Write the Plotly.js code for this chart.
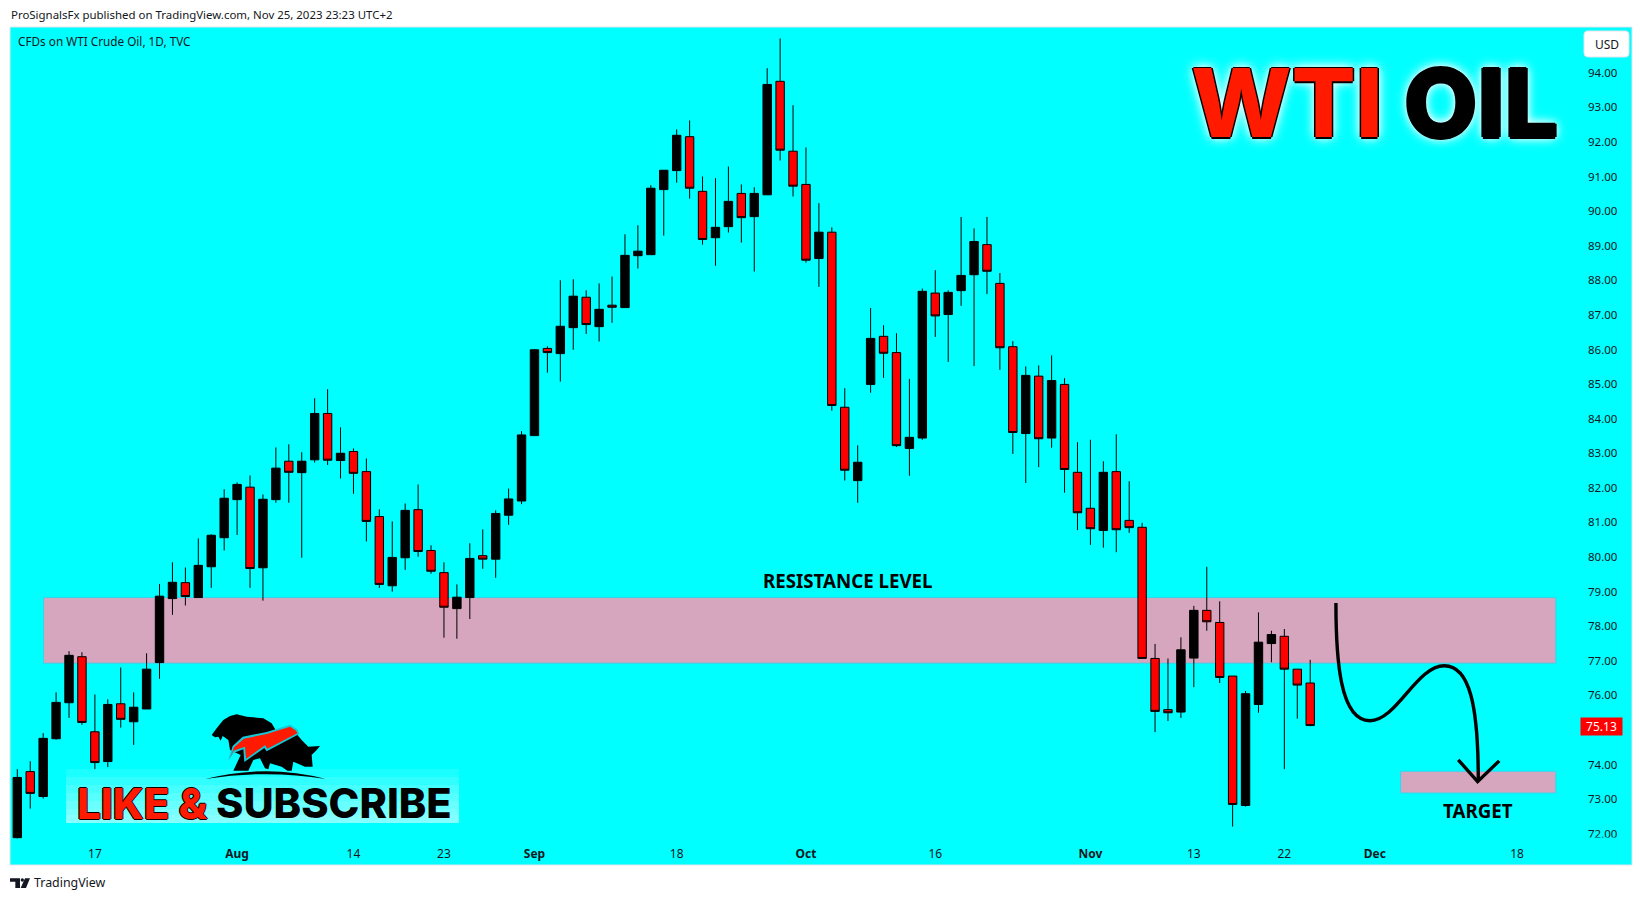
<!DOCTYPE html>
<html>
<head>
<meta charset="utf-8">
<title>WTI OIL</title>
<script src="https://cdn.plot.ly/plotly-3.0.1.min.js"></script>
<style>html,body{margin:0;padding:0;background:#fff;overflow:hidden}#chart{width:1643px;height:901px}</style>
</head>
<body>
<div id="chart"></div>
<script>
// Daily candles
const opens = [71.89,73.80,73.08,74.75,75.79,77.12,74.95,74.09,75.76,75.24,75.61,76.95,78.80,79.26,78.83,79.72,80.56,81.66,82.02,79.69,81.66,82.77,82.44,82.81,84.15,82.79,83.05,82.47,81.17,79.17,79.98,81.37,80.19,79.55,78.51,78.83,80.04,79.94,81.21,81.62,83.51,86.03,85.88,86.63,87.51,86.66,87.28,87.21,88.71,88.74,90.62,91.17,92.15,90.57,89.23,89.55,90.51,89.84,90.47,93.75,91.73,90.77,88.63,89.39,84.33,82.21,84.99,86.38,85.91,83.14,83.44,87.63,87.01,87.70,88.16,89.03,87.91,86.08,83.57,85.23,83.44,84.99,82.45,81.41,80.77,82.47,81.06,80.86,77.07,75.59,75.52,77.08,78.46,78.11,76.56,72.82,75.74,77.50,77.71,76.76,76.36];
const closes = [73.63,73.17,74.76,75.80,77.16,75.22,74.06,75.74,75.31,75.66,76.76,78.87,79.27,78.86,79.76,80.63,81.70,82.10,79.67,81.67,82.57,82.45,82.77,84.15,82.80,83.00,82.42,81.03,79.21,79.99,81.35,80.16,79.59,78.55,78.84,79.96,79.94,81.26,81.68,83.53,85.99,85.91,86.67,87.54,86.72,87.16,87.22,88.72,88.84,90.66,91.18,92.19,90.66,89.18,89.53,90.28,89.81,90.51,93.66,91.76,90.72,88.58,89.39,84.38,82.51,82.74,86.32,85.89,83.22,83.46,87.68,86.97,87.65,88.14,89.12,88.26,86.05,83.60,85.25,83.42,85.10,82.53,81.28,80.82,82.45,80.79,80.85,77.07,75.54,75.50,77.32,78.46,78.13,76.52,72.85,76.05,77.54,77.76,76.76,76.30,75.13];
const highs = [73.87,74.10,74.91,76.09,77.28,77.25,76.03,75.89,76.81,76.09,77.22,79.22,79.85,79.70,80.54,80.66,81.96,82.16,82.36,81.81,83.17,83.26,83.03,84.59,84.85,83.75,83.14,82.85,81.38,81.03,81.55,82.10,80.34,79.85,79.21,80.40,80.80,81.35,81.98,83.64,86.01,86.09,88.00,88.03,87.71,87.91,88.11,89.33,89.59,90.75,91.18,92.36,92.62,91.00,90.95,91.29,90.77,90.69,94.13,94.99,93.06,91.84,90.23,89.53,84.88,83.23,87.20,86.70,86.47,85.15,87.76,88.29,87.71,89.83,89.50,89.83,88.21,86.24,85.51,85.54,85.83,85.17,83.32,83.39,82.77,83.55,82.19,80.99,77.49,77.07,77.68,78.59,79.72,78.72,76.56,76.13,78.40,77.87,77.92,76.76,77.03];
const lows = [71.87,72.73,73.02,74.72,75.35,75.15,73.87,73.93,75.07,74.57,75.61,76.48,78.33,78.60,78.83,79.11,80.19,80.64,79.11,78.74,81.57,81.57,79.98,82.73,82.66,82.27,81.83,80.45,79.11,79.00,79.63,80.01,79.52,77.67,77.64,78.21,79.66,79.40,80.93,81.53,83.51,85.33,85.07,85.99,86.45,86.23,86.77,87.21,88.34,88.74,89.29,90.82,90.36,89.03,88.42,89.38,89.09,88.25,90.47,91.46,90.42,88.51,87.81,84.23,82.21,81.57,84.75,85.18,83.18,82.35,83.39,86.36,85.64,87.26,85.52,87.60,85.41,82.98,82.14,82.60,83.16,81.86,80.78,80.35,80.27,80.14,80.70,77.07,74.94,75.26,75.35,76.24,77.87,76.36,72.21,72.79,75.50,76.96,73.87,75.33,75.11];
const sessions = opens.map((_, i) => i);

// Axis labels
const xTickSessions = [6,17,26,33,40,51,61,71,83,91,98,105,116];
const xTickLabels = ['17','<b>Aug</b>','14','23','<b>Sep</b>','18','<b>Oct</b>','16','<b>Nov</b>','13','22','<b>Dec</b>','18'];
const priceTicks = [72,73,74,76,77,78,79,80,81,82,83,84,85,86,87,88,89,90,91,92,93,94];

// Drawn levels
const resistanceZone = {from: 2.03, to: 119, low: 76.93, high: 78.83};
const targetZone = {from: 106.99, to: 119, low: 73.18, high: 73.81};
const lastPrice = 75.13;

// Hand-drawn projection: start point, then three cubic segments (session, price)
const pathSessions = [101.99,101.99,102.30,104.62,106.68,108.23,110.37,112.35,113.0,113.0];
const pathPrices = [78.67,77.03,75.27,75.27,75.27,76.86,76.86,76.86,75.68,73.56];
const headSessions = [111.45,112.95,114.62];
const headPrices = [74.14,73.51,74.11];

// Page geometry
const W = 1643, H = 901, L = 10, R = 1632, T = 27, B = 865;
const px = x => (x - L) / (R - L);
const py = y => (B - y) / (B - T);
const TEXT = '#131722';
const UI = '"Noto Sans", sans-serif';
const HEAVY = 'Inter, sans-serif';

function pathOf(cmds, mapX, mapY) {
  return cmds.map(c => {
    const [k, ...n] = c;
    let s = k;
    for (let i = 0; i < n.length; i += 2) s += (i ? ' ' : '') + mapX(n[i]) + ',' + mapY(n[i + 1]);
    return s;
  }).join(' ') + ' Z';
}
// logo artwork coordinates are in thirds of a pixel, offset 350 px down
const lx = v => px(v / 3).toFixed(5);
const ly = v => py(350 + v / 3).toFixed(5);
const poly = pts => pathOf(pts.map((p, i) => [i ? 'L' : 'M', p[0], p[1]]), lx, ly);

const beastPts = [[635,1155],[650,1135],[670,1110],[690,1098],[710,1093],[740,1100],[790,1105],[815,1120],[830,1145],[880,1140],[905,1170],[925,1190],[960,1188],[950,1200],[935,1215],[938,1250],[915,1250],[880,1235],[875,1262],[862,1262],[845,1250],[810,1240],[805,1258],[795,1255],[780,1225],[760,1230],[745,1262],[700,1262],[722,1215],[690,1200],[685,1170],[668,1158],[662,1172],[655,1160],[645,1162]];
const boltOuter = [[684,1232],[698,1188],[728,1160],[800,1146],[870,1124],[892,1138],[898,1152],[800,1204],[793,1194],[733,1236],[730,1198],[702,1208]];
const boltPts = [[690,1225],[702,1192],[732,1166],[800,1152],[870,1130],[888,1142],[892,1150],[802,1196],[795,1186],[738,1226],[735,1190],[700,1202]];

const shapes = [];
const rectShape = (x0, x1, y0, y1, fill, line, layer) => ({type:'rect', xref:'paper', yref:'paper', x0:px(x0), x1:px(x1), y0:py(y0), y1:py(y1), fillcolor:fill, line:line||{width:0}, layer:layer||'below'});

// price zones through the chart's own scales
[resistanceZone, targetZone].forEach(z => shapes.push({type:'rect', xref:'x', yref:'y', x0:z.from, x1:z.to, y0:z.low, y1:z.high, fillcolor:'#d5a6bd', line:{color:'#35d5ee', width:1}, layer:'below'}));

// projection curve through the same scales
const pt = i => pathSessions[i] + ',' + pathPrices[i];
shapes.push({type:'path', xref:'x', yref:'y', layer:'above', fillcolor:'rgba(0,0,0,0)', line:{color:'#000', width:3.4},
  path:`M${pt(0)} C${pt(1)} ${pt(2)} ${pt(3)} C${pt(4)} ${pt(5)} ${pt(6)} C${pt(7)} ${pt(8)} ${pt(9)}`});

// glow behind the subscribe text
[769,777,785,793,801,809,815].forEach(y => shapes.push(rectShape(66, 459, y, 823, 'rgba(255,255,255,0.1)')));
shapes.push({type:'path', xref:'paper', yref:'paper', path:poly(beastPts), fillcolor:'#000', line:{width:0}, layer:'below'});
shapes.push({type:'path', xref:'paper', yref:'paper', path:poly(boltOuter), fillcolor:'#14c8d8', line:{width:0}, layer:'below'});
shapes.push({type:'path', xref:'paper', yref:'paper', path:poly(boltPts), fillcolor:'#ff1a00', line:{width:0}, layer:'below'});
shapes.push({type:'path', xref:'paper', yref:'paper', path:`M${lx(615)},${ly(1287)} Q${lx(800)},${ly(1240)} ${lx(978)},${ly(1287)} Q${lx(800)},${ly(1258)} ${lx(615)},${ly(1287)} Z`, fillcolor:'#000', line:{width:0}, layer:'below'});

// frame
shapes.push(rectShape(L, R, T, B, 'rgba(0,0,0,0)', {color:'#dfe3ea', width:1}, 'above'));
// USD button with rounded corners
const bx0 = 1584, bx1 = 1629, by0 = 31, by1 = 57, r = 4;
const bp = (x, y) => px(x).toFixed(5) + ',' + py(y).toFixed(5);
shapes.push({type:'path', xref:'paper', yref:'paper', layer:'above', fillcolor:'#fff', line:{color:'#e0e3eb', width:1},
  path:`M${bp(bx0+r,by0)} L${bp(bx1-r,by0)} Q${bp(bx1,by0)} ${bp(bx1,by0+r)} L${bp(bx1,by1-r)} Q${bp(bx1,by1)} ${bp(bx1-r,by1)} L${bp(bx0+r,by1)} Q${bp(bx0,by1)} ${bp(bx0,by1-r)} L${bp(bx0,by0+r)} Q${bp(bx0,by0)} ${bp(bx0+r,by0)} Z`});
// TradingView mark
const tv = (x, y) => bp(x / 3, 820 + y / 3);
shapes.push({type:'path', xref:'paper', yref:'paper', layer:'above', fillcolor:TEXT, line:{width:0},
  path:`M${tv(30,175)} L${tv(60,175)} L${tv(60,204)} L${tv(46,204)} L${tv(46,185)} L${tv(30,185)} Z`});
shapes.push({type:'path', xref:'paper', yref:'paper', layer:'above', fillcolor:TEXT, line:{width:0},
  path:`M${tv(75,175)} L${tv(90,175)} L${tv(78,204)} L${tv(62,204)} Z`});
shapes.push({type:'circle', xref:'paper', yref:'paper', layer:'above', fillcolor:TEXT, line:{width:0},
  x0:px(62/3), x1:px(72/3), y0:py(820+175/3), y1:py(820+185/3)});

const note = (text, x, y, size, color, family, extra) => Object.assign({
  text, x:px(x), y:py(y), xref:'paper', yref:'paper', showarrow:false, xanchor:'center', yanchor:'middle', borderpad:0,
  font:{size, color, family}
}, extra || {});
const outline = '1.5px 0 #000,-1.5px 0 #000,0 1.5px #000,0 -1.5px #000,0 0 9px #fff,0 0 14px #fff';
const heavyGlow = '1.5px 0 #000,-1.5px 0 #000,0 1.5px #000,0 -1.5px #000,0 0 8px #fff,0 0 13px #fff';

const annotations = [
  note('ProSignalsFx published on TradingView.com, Nov 25, 2023 23:23 UTC+2', 10, 15, 11.45, TEXT, UI, {xanchor:'left'}),
  note('CFDs on WTI Crude Oil, 1D, TVC', 17, 41, 11.75, TEXT, UI, {xanchor:'left'}),
  note('TradingView', 32.5, 883, 12.4, TEXT, UI, {xanchor:'left'}),
  note('USD', 1606.5, 44, 12, TEXT, UI),
  note(lastPrice.toFixed(2), 1601.5, 726.5, 12, '#fff', UI, {bgcolor:'#ff0000', width:41, height:17}),
  note('RESISTANCE LEVEL', 847, 580, 18.7, '#000', UI, {font:{size:18.7, color:'#000', family:UI, weight:700}}),
  note('TARGET', 1478, 810, 18.7, '#000', UI, {font:{size:18.7, color:'#000', family:UI, weight:700}}),
  note('WTI', 1287, 102, 95, '#ff1a00', HEAVY, {font:{size:95, color:'#ff1a00', family:HEAVY, weight:800, shadow:outline}}),
  note('OIL', 1481, 102, 95, '#000', HEAVY, {font:{size:95, color:'#000', family:HEAVY, weight:800, shadow:heavyGlow}}),
  note('LIKE &', 142.5, 803, 42, '#ff1a00', HEAVY, {font:{size:42, color:'#ff1a00', family:HEAVY, weight:800, shadow:'1px 0 #000,-1px 0 #000,0 1px #000,0 -1px #000'}}),
  note('SUBSCRIBE', 333.5, 803, 41.5, '#000', HEAVY, {font:{size:41.5, color:'#000', family:HEAVY, weight:800}}),
  // the pane ends just below the lowest price label
  note(' ', 1606, 842, 4, 'rgba(0,0,0,0)', UI, {bgcolor:'#00ffff', width:44, height:8})
];

const candles = {
  type:'candlestick', x:sessions, open:opens, high:highs, low:lows, close:closes,
  increasing:{line:{color:'#000', width:1}, fillcolor:'#000'},
  decreasing:{line:{color:'#000', width:1}, fillcolor:'#ff0000'},
  whiskerwidth:0, hoverinfo:'skip', showlegend:false
};
const arrowHead = {type:'scatter', mode:'lines', x:headSessions, y:headPrices, line:{color:'#000', width:3.4}, hoverinfo:'skip', showlegend:false};

Plotly.newPlot('chart', [candles, arrowHead], {
  width:W, height:H, autosize:false,
  paper_bgcolor:'#ffffff', plot_bgcolor:'#00ffff',
  margin:{l:L, r:W-R, t:T, b:H-B, pad:0},
  showlegend:false, boxgap:0.35, boxgroupgap:0,
  xaxis:{type:'linear', range:[-0.565, 124.89], anchor:'free', position:(B-838)/(B-T), tickmode:'array', tickvals:xTickSessions, ticktext:xTickLabels,
    showgrid:false, zeroline:false, showline:false, ticks:'outside', ticklen:5, tickcolor:'rgba(0,0,0,0)', tickfont:{size:12, color:TEXT, family:UI}, rangeslider:{visible:false}, fixedrange:true},
  yaxis:{type:'linear', range:[71.10, 95.32], side:'right', anchor:'free', position:(1587-L)/(R-L), tickmode:'array', tickvals:priceTicks, tickformat:'.2f',
    showgrid:false, zeroline:false, showline:false, ticks:'', tickfont:{size:11.5, color:TEXT, family:UI}, fixedrange:true},
  shapes, annotations
}, {staticPlot:true, displayModeBar:false});
</script>
</body>
</html>
